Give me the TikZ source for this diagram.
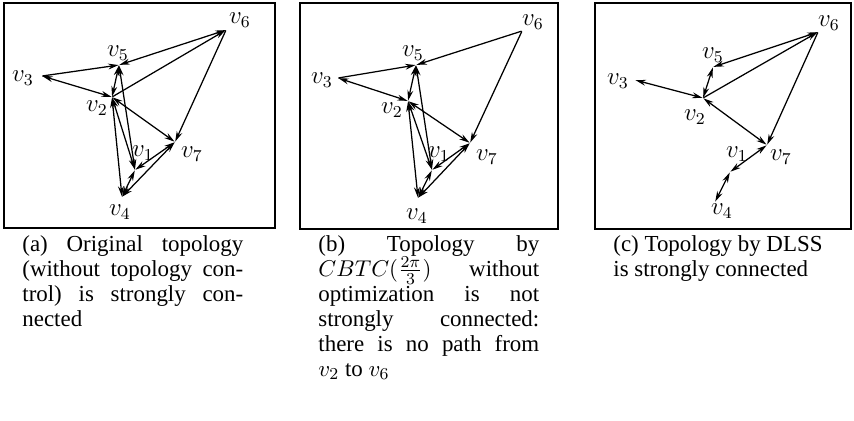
\documentclass[tikz,border=0pt]{standalone}
\usepackage{fontspec}
\setmainfont{Liberation Serif}
\usepackage{amsmath}
\usepackage{tikz}
\usetikzlibrary{arrows.meta}
\tikzset{
  panel/.style={draw=black,line width=0.9pt},
  vpt/.style={inner sep=0pt,minimum size=0pt},
  vlab/.style={inner sep=0pt,font=\large},
  uni/.style={-{Stealth[length=5pt,width=2.8pt]},line width=0.6pt},
  bi/.style={{Stealth[length=5pt,width=2.8pt]}-{Stealth[length=5pt,width=2.8pt]},line width=0.6pt},
  capbox/.style={anchor=north west,inner sep=0pt,text width=106pt,
    align=justify,font=\fontsize{11}{12}\selectfont},
}

\begin{document}
\begin{tikzpicture}[x=0.48pt,y=-0.48pt]
  \useasboundingbox (0,0) rectangle (854,420);

  % (a) original topology
  \draw[panel] (4,3) rectangle (275,228);
  \node (a1) [vpt] at (135,170) {};
  \node (a2) [vpt] at (112,97) {};
  \node (a3) [vpt] at (42,76) {};
  \node (a4) [vpt] at (122,197) {};
  \node (a5) [vpt] at (119,65) {};
  \node (a6) [vpt] at (226,30) {};
  \node (a7) [vpt] at (175,142) {};
  \node (a1t) [vlab] at (143,153) {$v_1$};
  \node (a2t) [vlab] at (97,108) {$v_2$};
  \node (a3t) [vlab] at (23,78) {$v_3$};
  \node (a4t) [vlab] at (120,212) {$v_4$};
  \node (a5t) [vlab] at (118,53) {$v_5$};
  \node (a6t) [vlab] at (240,20) {$v_6$};
  \node (a7t) [vlab] at (192,154) {$v_7$};
  \draw[uni] (a3) -- (a5);
  \draw[bi] (a5) -- (a6);
  \draw[bi] (a3) -- (a2);
  \draw[uni] (a2) -- (a6);
  \draw[uni] (a6) -- (a7);
  \draw[bi] (a2) -- (a7);
  \draw[bi] (a2) -- (a5);
  \draw[bi] (a5) -- (a1);
  \draw[bi] (a2) -- (a1);
  \draw[bi] (a2) -- (a4);
  \draw[bi] (a1) -- (a4);
  \draw[bi] (a4) -- (a7);
  \draw[bi] (a1) -- (a7);

  % (b) CBTC without optimization
  \draw[panel] (300,3) rectangle (558,229);
  \node (b1) [vpt] at (432,170) {};
  \node (b2) [vpt] at (408,101) {};
  \node (b3) [vpt] at (338,78) {};
  \node (b4) [vpt] at (418,198) {};
  \node (b5) [vpt] at (416,65) {};
  \node (b6) [vpt] at (522,31) {};
  \node (b7) [vpt] at (470,143) {};
  \node (b1t) [vlab] at (439,154) {$v_1$};
  \node (b2t) [vlab] at (392,110) {$v_2$};
  \node (b3t) [vlab] at (322,80) {$v_3$};
  \node (b4t) [vlab] at (417,216) {$v_4$};
  \node (b5t) [vlab] at (413,53) {$v_5$};
  \node (b6t) [vlab] at (533,22) {$v_6$};
  \node (b7t) [vlab] at (487,157) {$v_7$};
  \draw[uni] (b3) -- (b5);
  \draw[uni] (b6) -- (b5);
  \draw[bi] (b3) -- (b2);
  \draw[bi] (b2) -- (b7);
  \draw[uni] (b6) -- (b7);
  \draw[bi] (b2) -- (b5);
  \draw[bi] (b5) -- (b1);
  \draw[bi] (b2) -- (b1);
  \draw[bi] (b2) -- (b4);
  \draw[bi] (b1) -- (b4);
  \draw[bi] (b4) -- (b7);
  \draw[bi] (b1) -- (b7);

  % (c) DLSS
  \draw[panel] (595,3) rectangle (851,229);
  \node (c1) [vpt] at (730,172) {};
  \node (c2) [vpt] at (703,98) {};
  \node (c3) [vpt] at (635,80) {};
  \node (c4) [vpt] at (715,202) {};
  \node (c5) [vpt] at (713,67) {};
  \node (c6) [vpt] at (818,32) {};
  \node (c7) [vpt] at (767,145) {};
  \node (c1t) [vlab] at (737,154) {$v_1$};
  \node (c2t) [vlab] at (695,117) {$v_2$};
  \node (c3t) [vlab] at (618,81) {$v_3$};
  \node (c4t) [vlab] at (722,211) {$v_4$};
  \node (c5t) [vlab] at (713,55) {$v_5$};
  \node (c6t) [vlab] at (829,23) {$v_6$};
  \node (c7t) [vlab] at (781,157) {$v_7$};
  \draw[bi] (c5) -- (c6);
  \draw[uni] (c2) -- (c6);
  \draw[bi] (c2) -- (c5);
  \draw[bi] (c2) -- (c3);
  \draw[bi] (c2) -- (c7);
  \draw[uni] (c6) -- (c7);
  \draw[bi] (c1) -- (c7);
  \draw[bi] (c1) -- (c4);

  % captions
  \node (capa) [capbox] at (22,235)
    {(a) Original topology\linebreak (without topology con-\linebreak
     trol) is strongly con-\linebreak nected};
  \node (capb) [capbox] at (318,235)
    {(b) Topology by\linebreak $CBTC(\frac{2\pi}{3})$ without\linebreak
     optimization is not\linebreak strongly connected:\linebreak
     there is no path from\linebreak $v_2$ to $v_6$};
  \node (capc) [capbox] at (613,235)
    {(c) Topology by DLSS\newline is strongly connected};
\end{tikzpicture}
\end{document}
